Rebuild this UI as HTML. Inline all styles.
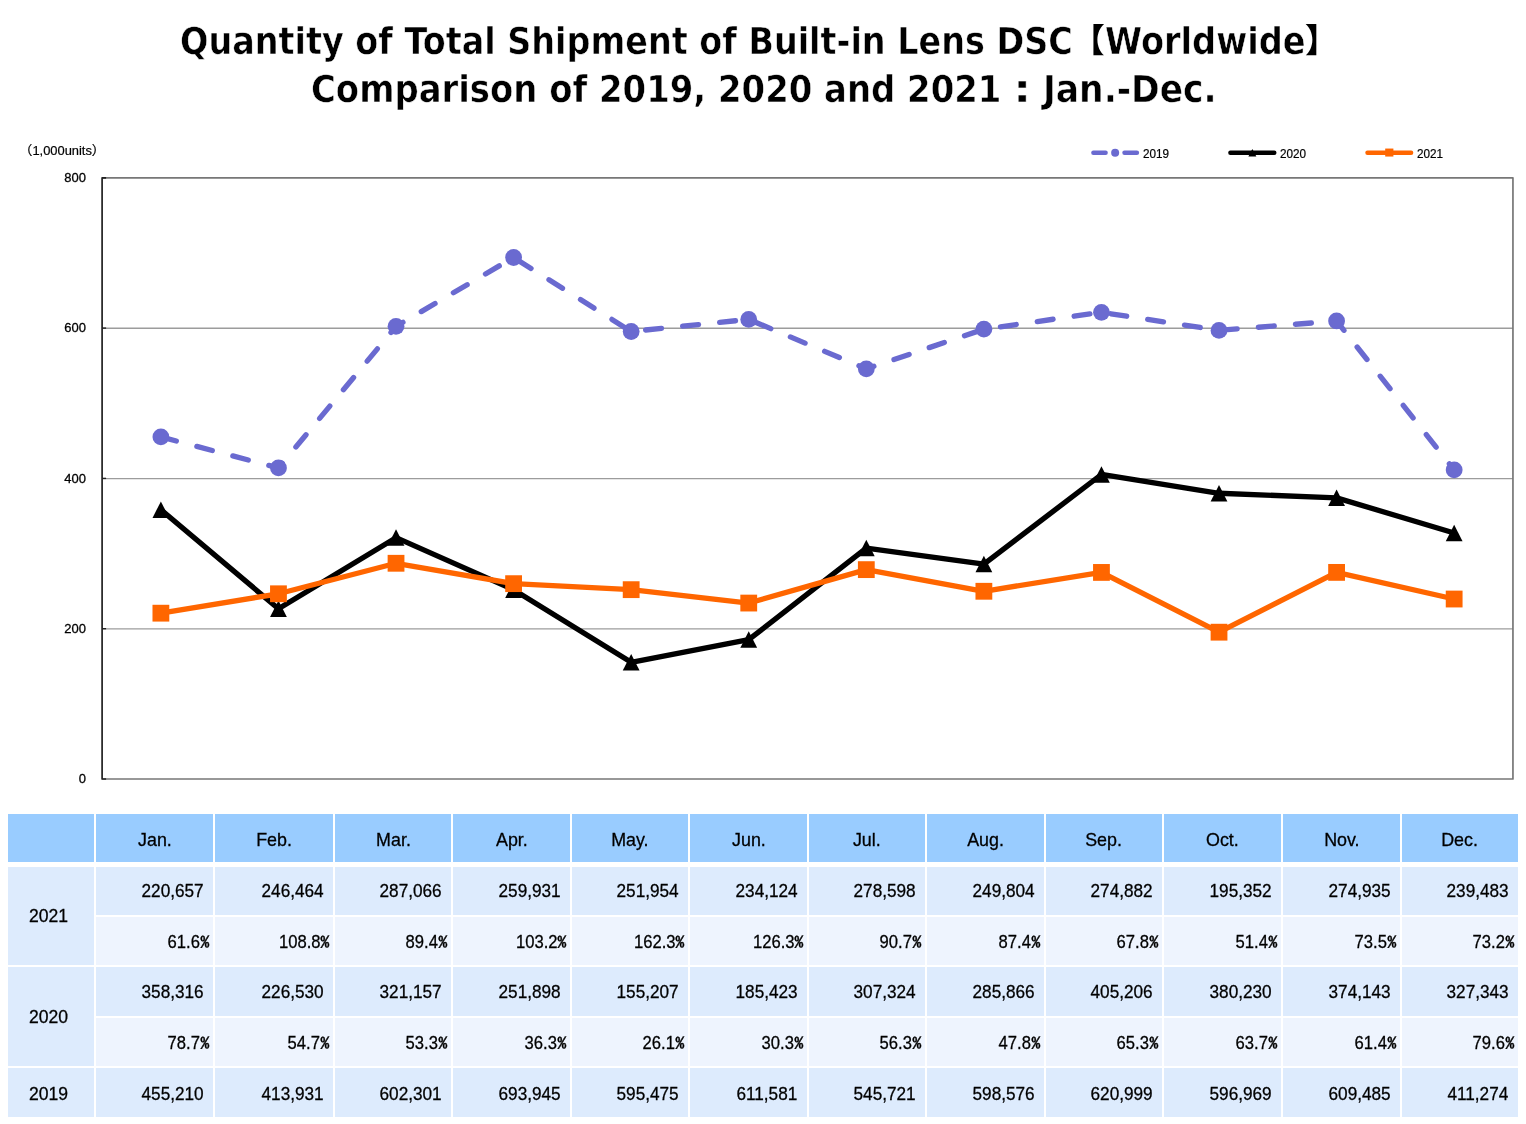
<!DOCTYPE html>
<html lang="en"><head><meta charset="utf-8"><title>Quantity of Total Shipment of Built-in Lens DSC</title>
<style>
*{margin:0;padding:0;box-sizing:border-box}
html,body{width:1526px;height:1124px;background:#fff;overflow:hidden}
body{position:relative;font-family:"Liberation Sans","IPAGothic",sans-serif;color:#000}
h1{position:absolute;left:0;top:0;width:1526px;height:120px;font-family:"DejaVu Sans","Liberation Sans",sans-serif;font-weight:bold;font-size:36.6px;line-height:44px;color:#000;white-space:nowrap;-webkit-text-stroke:0.5px #fff}
h1 span{position:absolute;display:block;transform-origin:0 50%}
h1 .a{left:180.3px;top:20.35px;transform:scaleX(0.9132)}
h1 .b{left:1104.9px;top:20.35px;transform:scaleX(0.9190)}
h1 .l2a{left:311.2px;top:68.35px;transform:scaleX(0.9262)}
h1 .l2b{left:1013.2px;top:68.35px;transform:scaleX(1.25)}
h1 .l2c{left:1042.6px;top:68.35px;transform:scaleX(0.9430)}
h1 .jp{font-family:"Liberation Sans","Noto Sans CJK JP","IPAGothic",sans-serif;font-weight:900;font-size:33px;transform:none;-webkit-text-stroke:0}
h1 .j1{left:1071.68px;top:19.45px}
h1 .j2{left:1304.9px;top:19.45px}
#chart{position:absolute;left:0;top:0}
.t{position:absolute;white-space:nowrap;line-height:20px;height:20px;color:#000;-webkit-text-stroke:0.2px #000}
.yl{left:28.8px;-webkit-text-stroke:0.3px #000;width:57px;text-align:right;font-size:13.7px;transform:scaleX(.95);transform-origin:100% 50%}
.un{left:0;top:140.2px;width:110px}
.un span{position:absolute;top:0;display:block}
.un .u1{font-family:"Liberation Sans","IPAGothic","Noto Sans CJK JP",sans-serif;font-size:13.3px;left:19.45px;top:1.2px}
.un .u2{font-size:12.9px;left:32.4px;top:0.6px}
.un .u3{font-family:"Liberation Sans","IPAGothic","Noto Sans CJK JP",sans-serif;font-size:13.3px;left:91.3px;top:1.2px}
.lg{top:143.7px;font-size:11.9px;transform:scaleX(.985);transform-origin:0 50%}
.c{position:absolute;font-size:19px;white-space:nowrap;overflow:hidden;-webkit-text-stroke:0.3px #000}
.c span{display:inline-block;transform:scaleX(.905)}
.h{background:#99ccff}
.v{background:#ddebfd}
.p{background:#eef4fe}
.hd{text-align:center;padding-top:1.5px}
.hd span{transform-origin:50% 50%;transform:scaleX(.94)}
.num{text-align:right;padding-right:9.6px}
.num span{transform-origin:100% 50%}
.pct{text-align:right;padding-right:3.5px}
.pct span{transform-origin:100% 50%;transform:scaleX(.875)}
.pct i{font-style:normal;-webkit-text-stroke:.45px #000;font-family:"IPAGothic","Liberation Sans",sans-serif;font-size:18.7px;display:inline-block;transform:scaleY(.75);transform-origin:50% 54.4%}
.lab{text-align:left;padding-left:20.8px}
.lab span{transform-origin:0 50%;transform:scaleX(.925)}
.last{padding-top:1px}
</style></head>
<body>
<h1><span class="a">Quantity of Total Shipment of Built-in Lens DSC</span><span class="jp j1">【</span><span class="b">Worldwide</span><span class="jp j2">】</span> <span class="l2a">Comparison of 2019, 2020 and 2021 </span><span class="l2b">:</span> <span class="l2c">Jan.-Dec.</span></h1>
<svg id="chart" width="1526" height="800" viewBox="0 0 1526 800">
<line x1="102.1" y1="628.85" x2="1512.95" y2="628.85" stroke="#9c9c9c" stroke-width="1.3"/>
<line x1="102.1" y1="628.70" x2="106.1" y2="628.70" stroke="#222" stroke-width="1.4"/>
<line x1="102.1" y1="478.55" x2="1512.95" y2="478.55" stroke="#9c9c9c" stroke-width="1.3"/>
<line x1="102.1" y1="478.40" x2="106.1" y2="478.40" stroke="#222" stroke-width="1.4"/>
<line x1="102.1" y1="328.25" x2="1512.95" y2="328.25" stroke="#9c9c9c" stroke-width="1.3"/>
<line x1="102.1" y1="328.10" x2="106.1" y2="328.10" stroke="#222" stroke-width="1.4"/>
<polyline points="102.1,177.8 1512.95,177.8 1512.95,779.0 102.1,779.0" fill="none" stroke="#777" stroke-width="1.7" stroke-linejoin="round"/>
<polyline points="106.1,177.8 102.1,177.8 102.1,779.0 106.1,779.0" fill="none" stroke="#222" stroke-width="1.7" stroke-linejoin="round"/>
<polyline points="160.89,436.91 278.46,467.93 396.03,326.37 513.60,257.50 631.17,331.50 748.74,319.40 866.31,368.89 983.88,329.17 1101.45,312.32 1219.02,330.38 1336.59,320.97 1454.16,469.93" fill="none" stroke="#6a6ad0" stroke-width="5.315" stroke-dasharray="15.95 21.257" stroke-linecap="round" stroke-linejoin="round"/>
<circle cx="160.89" cy="436.91" r="8.4" fill="#6a6ad0"/>
<circle cx="278.46" cy="467.93" r="8.4" fill="#6a6ad0"/>
<circle cx="396.03" cy="326.37" r="8.4" fill="#6a6ad0"/>
<circle cx="513.60" cy="257.50" r="8.4" fill="#6a6ad0"/>
<circle cx="631.17" cy="331.50" r="8.4" fill="#6a6ad0"/>
<circle cx="748.74" cy="319.40" r="8.4" fill="#6a6ad0"/>
<circle cx="866.31" cy="368.89" r="8.4" fill="#6a6ad0"/>
<circle cx="983.88" cy="329.17" r="8.4" fill="#6a6ad0"/>
<circle cx="1101.45" cy="312.32" r="8.4" fill="#6a6ad0"/>
<circle cx="1219.02" cy="330.38" r="8.4" fill="#6a6ad0"/>
<circle cx="1336.59" cy="320.97" r="8.4" fill="#6a6ad0"/>
<circle cx="1454.16" cy="469.93" r="8.4" fill="#6a6ad0"/>
<polyline points="160.89,509.73 278.46,608.76 396.03,537.65 513.60,589.70 631.17,662.36 748.74,639.65 866.31,548.05 983.88,564.17 1101.45,474.49 1219.02,493.26 1336.59,497.83 1454.16,533.00" fill="none" stroke="#000000" stroke-width="5.315" stroke-linejoin="round" stroke-linecap="round"/>
<polygon points="160.89,501.43 169.29,517.93 152.49,517.93" fill="#000000"/>
<polygon points="278.46,600.46 286.86,616.96 270.06,616.96" fill="#000000"/>
<polygon points="396.03,529.35 404.43,545.85 387.63,545.85" fill="#000000"/>
<polygon points="513.60,581.40 522.00,597.90 505.20,597.90" fill="#000000"/>
<polygon points="631.17,654.06 639.57,670.56 622.77,670.56" fill="#000000"/>
<polygon points="748.74,631.35 757.14,647.85 740.34,647.85" fill="#000000"/>
<polygon points="866.31,539.75 874.71,556.25 857.91,556.25" fill="#000000"/>
<polygon points="983.88,555.87 992.28,572.37 975.48,572.37" fill="#000000"/>
<polygon points="1101.45,466.19 1109.85,482.69 1093.05,482.69" fill="#000000"/>
<polygon points="1219.02,484.96 1227.42,501.46 1210.62,501.46" fill="#000000"/>
<polygon points="1336.59,489.53 1344.99,506.03 1328.19,506.03" fill="#000000"/>
<polygon points="1454.16,524.70 1462.56,541.20 1445.76,541.20" fill="#000000"/>
<polyline points="160.89,613.18 278.46,593.78 396.03,563.27 513.60,583.66 631.17,589.66 748.74,603.06 866.31,569.63 983.88,591.27 1101.45,572.43 1219.02,632.19 1336.59,572.39 1454.16,599.03" fill="none" stroke="#ff6600" stroke-width="5.315" stroke-linejoin="round" stroke-linecap="round"/>
<rect x="152.49" y="604.78" width="16.8" height="16.8" fill="#ff6600"/>
<rect x="270.06" y="585.38" width="16.8" height="16.8" fill="#ff6600"/>
<rect x="387.63" y="554.87" width="16.8" height="16.8" fill="#ff6600"/>
<rect x="505.20" y="575.26" width="16.8" height="16.8" fill="#ff6600"/>
<rect x="622.77" y="581.26" width="16.8" height="16.8" fill="#ff6600"/>
<rect x="740.34" y="594.66" width="16.8" height="16.8" fill="#ff6600"/>
<rect x="857.91" y="561.23" width="16.8" height="16.8" fill="#ff6600"/>
<rect x="975.48" y="582.87" width="16.8" height="16.8" fill="#ff6600"/>
<rect x="1093.05" y="564.03" width="16.8" height="16.8" fill="#ff6600"/>
<rect x="1210.62" y="623.79" width="16.8" height="16.8" fill="#ff6600"/>
<rect x="1328.19" y="563.99" width="16.8" height="16.8" fill="#ff6600"/>
<rect x="1445.76" y="590.63" width="16.8" height="16.8" fill="#ff6600"/>
<line x1="1093.3999999999999" y1="152.75" x2="1105.6" y2="152.75" stroke="#6a6ad0" stroke-width="4.45" stroke-linecap="round"/><line x1="1124.5" y1="152.75" x2="1136.9" y2="152.75" stroke="#6a6ad0" stroke-width="4.45" stroke-linecap="round"/><circle cx="1115.15" cy="152.75" r="4" fill="#6a6ad0"/>
<line x1="1230.3999999999999" y1="152.75" x2="1274.3" y2="152.75" stroke="#000000" stroke-width="4.45" stroke-linecap="round"/><polygon points="1252.35,148.95 1256.35,156.55 1248.35,156.55" fill="#000000"/>
<line x1="1367.5" y1="152.75" x2="1411.1000000000001" y2="152.75" stroke="#ff6600" stroke-width="4.45" stroke-linecap="round"/><rect x="1385.2000000000003" y="148.55" width="8.2" height="8" fill="#ff6600"/>
</svg>
<div class="t yl" style="top:769.30px">0</div>
<div class="t yl" style="top:619.00px">200</div>
<div class="t yl" style="top:468.70px">400</div>
<div class="t yl" style="top:318.40px">600</div>
<div class="t yl" style="top:168.10px">800</div>
<div class="t un"><span class="u1">（</span><span class="u2">1,000units</span><span class="u3">）</span></div>
<div class="t lg" style="left:1143.20px">2019</div>
<div class="t lg" style="left:1280.00px">2020</div>
<div class="t lg" style="left:1417.00px">2021</div>
<div id="tbl">
<div class="c h" style="left:8px;top:814px;width:86px;height:48px;line-height:48px"></div>
<div class="c v lab" style="left:8px;top:867px;width:86px;height:98px;line-height:98px"><span>2021</span></div>
<div class="c v lab" style="left:8px;top:967px;width:86px;height:99px;line-height:99px"><span>2020</span></div>
<div class="c v lab last" style="left:8px;top:1068px;width:86px;height:49px;line-height:49px"><span>2019</span></div>
<div class="c h hd" style="left:96px;top:814px;width:117px;height:48px;line-height:48px"><span>Jan.</span></div>
<div class="c h hd" style="left:215px;top:814px;width:118px;height:48px;line-height:48px"><span>Feb.</span></div>
<div class="c h hd" style="left:335px;top:814px;width:116px;height:48px;line-height:48px"><span>Mar.</span></div>
<div class="c h hd" style="left:453px;top:814px;width:117px;height:48px;line-height:48px"><span>Apr.</span></div>
<div class="c h hd" style="left:572px;top:814px;width:116px;height:48px;line-height:48px"><span>May.</span></div>
<div class="c h hd" style="left:690px;top:814px;width:117px;height:48px;line-height:48px"><span>Jun.</span></div>
<div class="c h hd" style="left:809px;top:814px;width:116px;height:48px;line-height:48px"><span>Jul.</span></div>
<div class="c h hd" style="left:927px;top:814px;width:117px;height:48px;line-height:48px"><span>Aug.</span></div>
<div class="c h hd" style="left:1046px;top:814px;width:116px;height:48px;line-height:48px"><span>Sep.</span></div>
<div class="c h hd" style="left:1164px;top:814px;width:117px;height:48px;line-height:48px"><span>Oct.</span></div>
<div class="c h hd" style="left:1283px;top:814px;width:117px;height:48px;line-height:48px"><span>Nov.</span></div>
<div class="c h hd" style="left:1402px;top:814px;width:116px;height:48px;line-height:48px"><span>Dec.</span></div>
<div class="c v num" style="left:96px;top:867px;width:117px;height:48px;line-height:48px"><span>220,657</span></div>
<div class="c v num" style="left:215px;top:867px;width:118px;height:48px;line-height:48px"><span>246,464</span></div>
<div class="c v num" style="left:335px;top:867px;width:116px;height:48px;line-height:48px"><span>287,066</span></div>
<div class="c v num" style="left:453px;top:867px;width:117px;height:48px;line-height:48px"><span>259,931</span></div>
<div class="c v num" style="left:572px;top:867px;width:116px;height:48px;line-height:48px"><span>251,954</span></div>
<div class="c v num" style="left:690px;top:867px;width:117px;height:48px;line-height:48px"><span>234,124</span></div>
<div class="c v num" style="left:809px;top:867px;width:116px;height:48px;line-height:48px"><span>278,598</span></div>
<div class="c v num" style="left:927px;top:867px;width:117px;height:48px;line-height:48px"><span>249,804</span></div>
<div class="c v num" style="left:1046px;top:867px;width:116px;height:48px;line-height:48px"><span>274,882</span></div>
<div class="c v num" style="left:1164px;top:867px;width:117px;height:48px;line-height:48px"><span>195,352</span></div>
<div class="c v num" style="left:1283px;top:867px;width:117px;height:48px;line-height:48px"><span>274,935</span></div>
<div class="c v num" style="left:1402px;top:867px;width:116px;height:48px;line-height:48px"><span>239,483</span></div>
<div class="c p pct" style="left:96px;top:917px;width:117px;height:48px;line-height:48px"><span>61.6</span><i>%</i></div>
<div class="c p pct" style="left:215px;top:917px;width:118px;height:48px;line-height:48px"><span>108.8</span><i>%</i></div>
<div class="c p pct" style="left:335px;top:917px;width:116px;height:48px;line-height:48px"><span>89.4</span><i>%</i></div>
<div class="c p pct" style="left:453px;top:917px;width:117px;height:48px;line-height:48px"><span>103.2</span><i>%</i></div>
<div class="c p pct" style="left:572px;top:917px;width:116px;height:48px;line-height:48px"><span>162.3</span><i>%</i></div>
<div class="c p pct" style="left:690px;top:917px;width:117px;height:48px;line-height:48px"><span>126.3</span><i>%</i></div>
<div class="c p pct" style="left:809px;top:917px;width:116px;height:48px;line-height:48px"><span>90.7</span><i>%</i></div>
<div class="c p pct" style="left:927px;top:917px;width:117px;height:48px;line-height:48px"><span>87.4</span><i>%</i></div>
<div class="c p pct" style="left:1046px;top:917px;width:116px;height:48px;line-height:48px"><span>67.8</span><i>%</i></div>
<div class="c p pct" style="left:1164px;top:917px;width:117px;height:48px;line-height:48px"><span>51.4</span><i>%</i></div>
<div class="c p pct" style="left:1283px;top:917px;width:117px;height:48px;line-height:48px"><span>73.5</span><i>%</i></div>
<div class="c p pct" style="left:1402px;top:917px;width:116px;height:48px;line-height:48px"><span>73.2</span><i>%</i></div>
<div class="c v num" style="left:96px;top:967px;width:117px;height:49px;line-height:49px"><span>358,316</span></div>
<div class="c v num" style="left:215px;top:967px;width:118px;height:49px;line-height:49px"><span>226,530</span></div>
<div class="c v num" style="left:335px;top:967px;width:116px;height:49px;line-height:49px"><span>321,157</span></div>
<div class="c v num" style="left:453px;top:967px;width:117px;height:49px;line-height:49px"><span>251,898</span></div>
<div class="c v num" style="left:572px;top:967px;width:116px;height:49px;line-height:49px"><span>155,207</span></div>
<div class="c v num" style="left:690px;top:967px;width:117px;height:49px;line-height:49px"><span>185,423</span></div>
<div class="c v num" style="left:809px;top:967px;width:116px;height:49px;line-height:49px"><span>307,324</span></div>
<div class="c v num" style="left:927px;top:967px;width:117px;height:49px;line-height:49px"><span>285,866</span></div>
<div class="c v num" style="left:1046px;top:967px;width:116px;height:49px;line-height:49px"><span>405,206</span></div>
<div class="c v num" style="left:1164px;top:967px;width:117px;height:49px;line-height:49px"><span>380,230</span></div>
<div class="c v num" style="left:1283px;top:967px;width:117px;height:49px;line-height:49px"><span>374,143</span></div>
<div class="c v num" style="left:1402px;top:967px;width:116px;height:49px;line-height:49px"><span>327,343</span></div>
<div class="c p pct" style="left:96px;top:1018px;width:117px;height:48px;line-height:48px"><span>78.7</span><i>%</i></div>
<div class="c p pct" style="left:215px;top:1018px;width:118px;height:48px;line-height:48px"><span>54.7</span><i>%</i></div>
<div class="c p pct" style="left:335px;top:1018px;width:116px;height:48px;line-height:48px"><span>53.3</span><i>%</i></div>
<div class="c p pct" style="left:453px;top:1018px;width:117px;height:48px;line-height:48px"><span>36.3</span><i>%</i></div>
<div class="c p pct" style="left:572px;top:1018px;width:116px;height:48px;line-height:48px"><span>26.1</span><i>%</i></div>
<div class="c p pct" style="left:690px;top:1018px;width:117px;height:48px;line-height:48px"><span>30.3</span><i>%</i></div>
<div class="c p pct" style="left:809px;top:1018px;width:116px;height:48px;line-height:48px"><span>56.3</span><i>%</i></div>
<div class="c p pct" style="left:927px;top:1018px;width:117px;height:48px;line-height:48px"><span>47.8</span><i>%</i></div>
<div class="c p pct" style="left:1046px;top:1018px;width:116px;height:48px;line-height:48px"><span>65.3</span><i>%</i></div>
<div class="c p pct" style="left:1164px;top:1018px;width:117px;height:48px;line-height:48px"><span>63.7</span><i>%</i></div>
<div class="c p pct" style="left:1283px;top:1018px;width:117px;height:48px;line-height:48px"><span>61.4</span><i>%</i></div>
<div class="c p pct" style="left:1402px;top:1018px;width:116px;height:48px;line-height:48px"><span>79.6</span><i>%</i></div>
<div class="c v num last" style="left:96px;top:1068px;width:117px;height:49px;line-height:49px"><span>455,210</span></div>
<div class="c v num last" style="left:215px;top:1068px;width:118px;height:49px;line-height:49px"><span>413,931</span></div>
<div class="c v num last" style="left:335px;top:1068px;width:116px;height:49px;line-height:49px"><span>602,301</span></div>
<div class="c v num last" style="left:453px;top:1068px;width:117px;height:49px;line-height:49px"><span>693,945</span></div>
<div class="c v num last" style="left:572px;top:1068px;width:116px;height:49px;line-height:49px"><span>595,475</span></div>
<div class="c v num last" style="left:690px;top:1068px;width:117px;height:49px;line-height:49px"><span>611,581</span></div>
<div class="c v num last" style="left:809px;top:1068px;width:116px;height:49px;line-height:49px"><span>545,721</span></div>
<div class="c v num last" style="left:927px;top:1068px;width:117px;height:49px;line-height:49px"><span>598,576</span></div>
<div class="c v num last" style="left:1046px;top:1068px;width:116px;height:49px;line-height:49px"><span>620,999</span></div>
<div class="c v num last" style="left:1164px;top:1068px;width:117px;height:49px;line-height:49px"><span>596,969</span></div>
<div class="c v num last" style="left:1283px;top:1068px;width:117px;height:49px;line-height:49px"><span>609,485</span></div>
<div class="c v num last" style="left:1402px;top:1068px;width:116px;height:49px;line-height:49px"><span>411,274</span></div>
</div>
</body></html>
